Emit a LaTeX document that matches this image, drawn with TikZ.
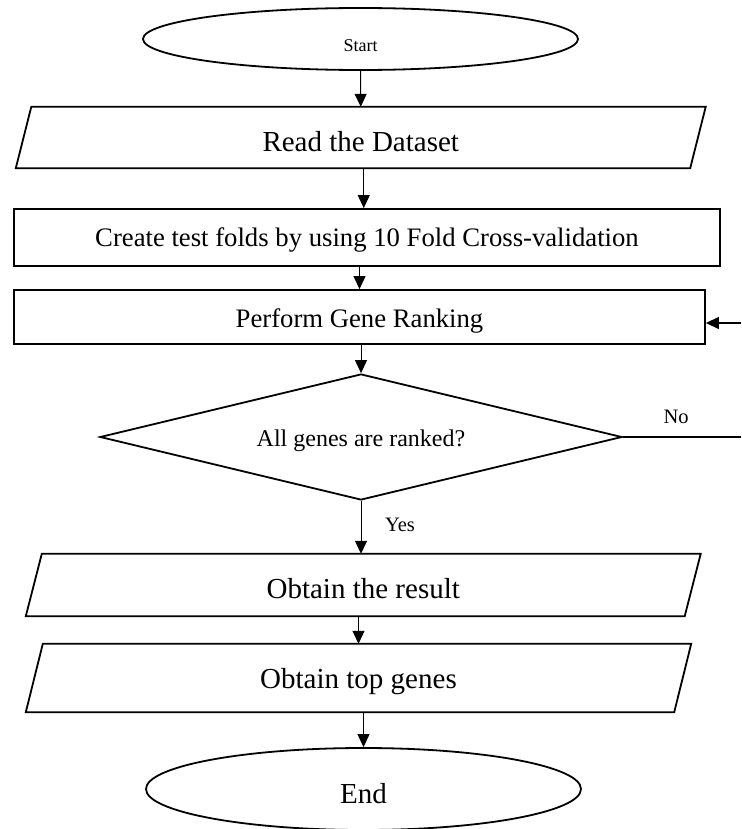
\documentclass[tikz,border=0pt]{standalone}
\usepackage{fontspec}
\setmainfont{Liberation Serif}
\usetikzlibrary{shapes.geometric,arrows.meta}
\tikzset{
  shapeline/.style={line width=1.8pt, draw=black},
  termbox/.style={ellipse, shapeline, inner sep=0pt},
  procbox/.style={rectangle, shapeline, inner sep=0pt},
  iobox/.style={rectangle, inner sep=0pt},
  decbox/.style={diamond, shapeline, inner sep=0pt, aspect=4.14},
  arr/.style={line width=1pt, -{Triangle[length=13pt,width=12pt]}},
  lbl/.style={inner sep=0pt},
}
\newcommand{\fs}[1]{\fontsize{#1}{#1}\selectfont}
\begin{document}
\begin{tikzpicture}[x=1pt,y=-1pt]
\useasboundingbox (0,0) rectangle (741,829);

\node[termbox, minimum width=435, minimum height=62, text height=26pt, text depth=0pt] (start) at (360.5,39) {\fs{18}Start};

\node[iobox, minimum width=674, minimum height=61, text height=29pt, text depth=0pt] (read) at (360.75,137.5) {\fs{29}Read the Dataset};
\draw[shapeline] ([xshift=-7.75]read.south west) -- ([xshift=7.75]read.north west) -- ([xshift=7.75]read.north east) -- ([xshift=-7.75]read.south east) -- cycle;

\node[procbox, minimum width=706, minimum height=57, text height=18pt, text depth=1pt] (create) at (367,237.5) {\fs{26.7}Create test folds by using 10 Fold Cross-validation};

\node[procbox, minimum width=691, minimum height=54, text height=20pt, text depth=0pt] (perform) at (359.5,317) {\fs{26.7}Perform Gene Ranking};

\node[decbox, minimum width=522, minimum height=126, text height=18pt, text depth=0pt] (decide) at (361,437) {\fs{24}All genes are ranked?};

\node[iobox, minimum width=658.5, minimum height=62, text height=26pt, text depth=0pt] (result) at (363.25,585) {\fs{29}Obtain the result};
\draw[shapeline] ([xshift=-8]result.south west) -- ([xshift=8]result.north west) -- ([xshift=8]result.north east) -- ([xshift=-8]result.south east) -- cycle;

\node[iobox, minimum width=648, minimum height=68, text height=20pt, text depth=0pt] (top) at (358.5,678) {\fs{29}Obtain top genes};
\draw[shapeline] ([xshift=-8.5]top.south west) -- ([xshift=8.5]top.north west) -- ([xshift=8.5]top.north east) -- ([xshift=-8.5]top.south east) -- cycle;

\node[termbox, minimum width=435, minimum height=82, text height=28pt, text depth=0pt] (end) at (363.5,789) {\fs{29}End};

\coordinate (noend) at (741,437);
\coordinate (fbstart) at (741,323);

\draw[arr] (start.south) -- (read.north);
\draw[arr] ([xshift=3]read.south) -- ([xshift=3]read.south |- create.north);
\draw[arr] (perform.north |- create.south) -- (perform.north);
\draw[arr] (decide.north |- perform.south) -- (decide.north);
\draw[arr] (decide.south) -- (decide.south |- result.north) node[lbl, pos=0.45, xshift=39] {\fs{20.5}Yes};
\draw[arr] (top.north |- result.south) -- (top.north);
\draw[arr] (end.north |- top.south) -- (end.north);

\draw[line width=1.3pt] (decide.east) -- (noend) node[lbl, pos=0.45, yshift=20] {\fs{20.5}No};
\draw[line width=1.3pt, -{Triangle[length=13pt,width=12pt]}] (fbstart) -- (perform.east |- fbstart);
\end{tikzpicture}
\end{document}
